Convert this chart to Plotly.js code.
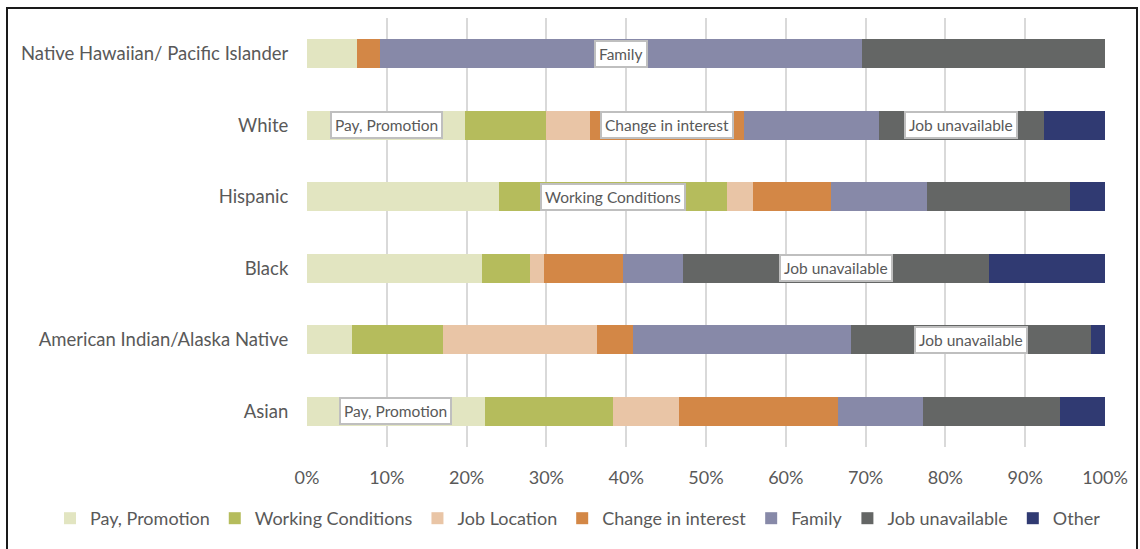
<!DOCTYPE html>
<html>
<head>
<meta charset="utf-8">
<script src="https://cdn.plot.ly/plotly-3.0.1.min.js"></script>
<style>html,body{margin:0;padding:0;background:#fff;}#chart{width:1140px;height:549px;}</style>
</head>
<body>
<div id="chart"></div>
<script>
// Categories (bottom to top)
const groups = ['Asian', 'American Indian/Alaska Native', 'Black', 'Hispanic', 'White', 'Native Hawaiian/ Pacific Islander'];
// Series values (% of responses), same order as groups
const payPromotion      = [22.3, 5.6, 21.9, 24.0, 19.8, 6.3];
const workingConditions = [16.0, 11.5, 6.1, 28.65, 10.1, 0];
const jobLocation       = [8.3, 19.25, 1.7, 3.2, 5.6, 0];
const changeInInterest  = [20.0, 4.45, 9.9, 9.85, 19.2, 2.9];
const family            = [10.6, 27.4, 7.55, 11.95, 17.0, 60.3];
const jobUnavailable    = [17.1, 30.0, 38.35, 18.0, 20.6, 30.5];
const other             = [5.7, 1.8, 14.5, 4.3, 7.7, 0];

const seriesNames = ['Pay, Promotion', 'Working Conditions', 'Job Location', 'Change in interest', 'Family', 'Job unavailable', 'Other'];
const seriesValues = [payPromotion, workingConditions, jobLocation, changeInInterest, family, jobUnavailable, other];
const seriesColors = ['#e2e5c1', '#b5bc5c', '#e9c5a6', '#d38746', '#8789a8', '#646665', '#303a72'];

// Segments that carry a data label: [group, series]
const labelled = [
  ['Native Hawaiian/ Pacific Islander', 'Family'],
  ['White', 'Pay, Promotion'],
  ['White', 'Change in interest'],
  ['White', 'Job unavailable'],
  ['Hispanic', 'Working Conditions'],
  ['Black', 'Job unavailable'],
  ['American Indian/Alaska Native', 'Job unavailable'],
  ['Asian', 'Pay, Promotion']
];

const font = 'Lato, "Open Sans", sans-serif';
const textColor = '#595959';

const traces = seriesNames.map((name, i) => ({
  type: 'bar',
  orientation: 'h',
  name: name,
  y: groups,
  x: seriesValues[i],
  marker: {color: seriesColors[i], line: {width: 0}},
  hoverinfo: 'name+x'
}));

const annotations = labelled.map(([g, s]) => {
  const gi = groups.indexOf(g);
  const si = seriesNames.indexOf(s);
  let start = 0;
  for (let k = 0; k < si; k++) start += seriesValues[k][gi];
  const mid = start + seriesValues[si][gi] / 2;
  return {
    x: mid, y: g, xref: 'x', yref: 'y',
    text: s, showarrow: false,
    font: {family: font, size: 15.5, color: textColor},
    bgcolor: '#ffffff', bordercolor: '#bfbfbf', borderwidth: 2, borderpad: 3
  };
});

const ml = 307, mr = 35, mt = 18, mb = 99, W = 1140, H = 549;
const pw = W - ml - mr, ph = H - mt - mb;
const px = v => (v - ml) / pw;
const py = v => (H - mb - v) / ph;

const layout = {
  width: W, height: H,
  margin: {l: ml, r: mr, t: mt, b: mb, pad: 0},
  paper_bgcolor: '#ffffff', plot_bgcolor: '#ffffff',
  barmode: 'stack',
  bargap: 0.6,
  font: {family: font, color: textColor, size: 18},
  xaxis: {
    range: [0, 100], dtick: 10, ticksuffix: '%',
    showgrid: true, gridcolor: '#d9d9d9', gridwidth: 2,
    zeroline: false, showline: false,
    ticks: 'outside', ticklen: 14, tickcolor: 'rgba(0,0,0,0)',
    tickfont: {family: font, size: 18, color: textColor},
    fixedrange: true
  },
  yaxis: {
    type: 'category',
    showgrid: false, zeroline: false, showline: false,
    ticks: 'outside', ticklen: 14, tickcolor: 'rgba(0,0,0,0)',
    tickfont: {family: font, size: 18.5, color: textColor},
    fixedrange: true
  },
  legend: {
    orientation: 'h',
    xref: 'paper', yref: 'paper',
    x: px(50), xanchor: 'left',
    y: py(522), yanchor: 'middle',
    traceorder: 'normal',
    font: {family: font, size: 18, color: textColor},
    itemwidth: 30
  },
  annotations: annotations,
  shapes: [{
    type: 'rect', xref: 'paper', yref: 'paper',
    x0: px(7), x1: px(1137), y0: py(570), y1: py(8),
    line: {color: '#1a1a1a', width: 2}, fillcolor: 'rgba(0,0,0,0)', layer: 'above'
  }]
};

Plotly.newPlot('chart', traces, layout, {displayModeBar: false, staticPlot: true});
</script>
</body>
</html>
